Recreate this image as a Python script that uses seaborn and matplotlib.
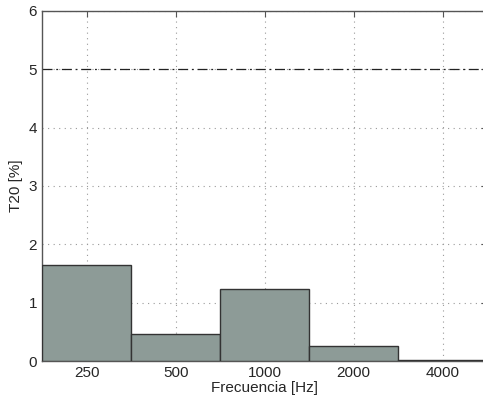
import matplotlib
matplotlib.use("Agg")
import matplotlib.pyplot as plt
import seaborn as sns
import pandas as pd

# Datos
frecuencias = ["250", "500", "1000", "2000", "4000"]
t20 = [1.65, 0.47, 1.24, 0.25, 0.02]
limite = 5

df = pd.DataFrame({"Frecuencia": frecuencias, "T20": t20})

sns.set_style("white")
plt.rcParams["font.family"] = ["Liberation Sans", "DejaVu Sans"]

fig = plt.figure(figsize=(4.83, 4.07), dpi=100)
ax = fig.add_axes([0.087, 0.113, 0.922, 0.860])

sns.barplot(
    data=df,
    x="Frecuencia",
    y="T20",
    width=1.0,
    color="#8d9b97",
    saturation=1,
    edgecolor="#333333",
    linewidth=1.0,
    ax=ax,
    zorder=3
)

ax.axhline(limite, color="#222222", linestyle=(0, (8, 3, 1.5, 3)), linewidth=0.9, zorder=2)

ax.set_xlim(-0.5, 4.5)
ax.set_ylim(0, 6)
ax.set_yticks(range(0, 7))

ax.grid(True, linestyle=(0, (1, 4)), color="#999999", linewidth=0.8, zorder=0)
ax.set_axisbelow(True)

ax.tick_params(direction="in", top=True, right=True, labelsize=11, length=4, color="#555555")
for s in ax.spines.values():
    s.set_color("#555555")
    s.set_linewidth(1.0)

ax.set_xlabel("Frecuencia [Hz]", fontsize=11, labelpad=1)
ax.set_ylabel("T20 [%]", fontsize=11)

fig.savefig("out.png", dpi=100)
